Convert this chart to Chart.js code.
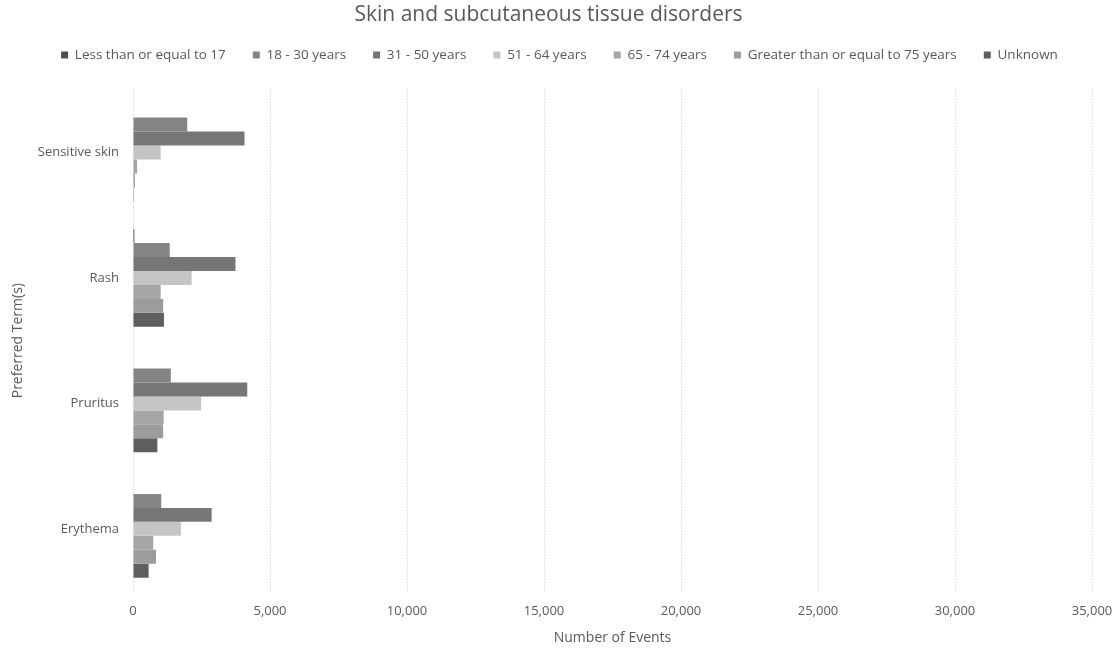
<!DOCTYPE html>
<html>
<head>
<meta charset="utf-8">
<script src="https://cdn.jsdelivr.net/npm/chart.js@4"></script>
<style>
    html, body { margin: 0; padding: 0; background: #fff; }
    #wrap { width: 1119px; height: 650px; position: relative; }
</style>
</head>
<body>
<div id="wrap"><canvas id="chart"></canvas></div>
<script>
// Categories, top to bottom as shown
const terms = ['Sensitive skin', 'Rash', 'Pruritus', 'Erythema'];

const ageGroups = [
    'Less than or equal to 17',
    '18 - 30 years',
    '31 - 50 years',
    '51 - 64 years',
    '65 - 74 years',
    'Greater than or equal to 75 years',
    'Unknown'
];

// Values per age group, in the same order as terms
const le17 = [0, 50, 0, 0];
const y18to30 = [1980, 1340, 1380, 1030];
const y31to50 = [4070, 3740, 4170, 2870];
const y51to64 = [1010, 2140, 2490, 1750];
const y65to74 = [150, 1010, 1120, 740];
const ge75 = [70, 1100, 1100, 840];
const unknown = [30, 1130, 890, 570];

const xTicks = [0, 5000, 10000, 15000, 20000, 25000, 30000, 35000];

const greys = ['#4d4d4d', '#848484', '#767676', '#c4c4c4', '#a6a6a6', '#9c9c9c', '#5e5e5e'];
const seriesValues = [le17, y18to30, y31to50, y51to64, y65to74, ge75, unknown];

const font = "'Open Sans', 'Liberation Sans', sans-serif";
const textGrey = '#595959';

// extra room under the legend, and center it on the page like the Excel original
const legendGap = {
    id: 'legendGap',
    beforeInit(chart) {
        const fit = chart.legend.fit;
        chart.legend.fit = function () {
            fit.bind(chart.legend)();
            this.height += 18;
        };
    },
    afterLayout(chart) {
        chart.legend.left += 11;
        chart.legend.right += 11;
    }
};

const ctx = document.getElementById('chart').getContext('2d');
new Chart(ctx, {
    type: 'bar',
    data: {
        labels: terms,
        datasets: ageGroups.map((name, i) => ({
            label: name,
            data: seriesValues[i],
            backgroundColor: greys[i],
            borderWidth: 0,
            categoryPercentage: 0.78,
            barPercentage: 1.0
        }))
    },
    options: {
        indexAxis: 'y',
        responsive: true,
        maintainAspectRatio: false,
        animation: false,
        layout: { padding: { top: 2, right: 22, bottom: 4, left: 0 } },
        plugins: {
            title: {
                display: true,
                text: 'Skin and subcutaneous tissue disorders',
                color: textGrey,
                font: { family: font, size: 21, weight: 'normal' },
                padding: { top: 0, bottom: -6 }
            },
            legend: {
                position: 'top',
                labels: {
                    color: textGrey,
                    font: { family: font, size: 13.5 },
                    boxWidth: 7,
                    boxHeight: 7,
                    padding: 27
                }
            },
            tooltip: { enabled: false }
        },
        scales: {
            x: {
                min: 0,
                max: 35000,
                afterBuildTicks: (scale) => { scale.ticks = xTicks.map(v => ({ value: v })); },
                afterFit: (scale) => { scale.paddingRight = 27; },
                ticks: {
                    color: textGrey,
                    font: { family: font, size: 13 },
                    padding: 12,
                    callback: (v) => v.toLocaleString('en-US')
                },
                grid: { color: '#c8c8c8', drawTicks: false, lineWidth: 1 },
                border: { display: false, dash: [1, 2] },
                title: {
                    display: true,
                    text: 'Number of Events',
                    color: textGrey,
                    font: { family: font, size: 14 },
                    padding: { top: -2, bottom: 0 }
                }
            },
            y: {
                grid: { display: false },
                border: { display: false },
                ticks: {
                    color: textGrey,
                    font: { family: font, size: 13 },
                    padding: 6
                },
                afterFit: (scale) => { scale.width = 133; },
                title: {
                    display: true,
                    text: 'Preferred Term(s)',
                    color: textGrey,
                    font: { family: font, size: 14 },
                    padding: { top: 10, bottom: 0 }
                }
            }
        }
    },
    plugins: [legendGap]
});
</script>
</body>
</html>
